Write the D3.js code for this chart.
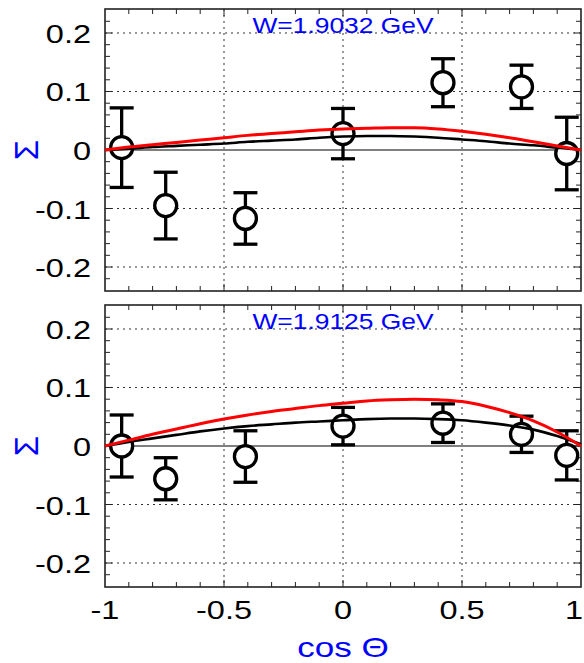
<!DOCTYPE html>
<html>
<head>
<meta charset="utf-8">
<script src="https://cdn.jsdelivr.net/npm/d3@7"></script>
<style>
  body { margin: 0; background: #fff; }
  text { font-family: "Liberation Sans", Arial, Helvetica, sans-serif; }
</style>
</head>
<body>
<script>
// cos(theta) bins of the data points
var cosBins = [-0.93, -0.745, -0.41, 0, 0.42, 0.75, 0.94];

// W = 1.9032 GeV
var sigmaTop = [0.004, -0.095, -0.117, 0.028, 0.115, 0.108, -0.006];
var errTop   = [0.068, 0.057, 0.044, 0.043, 0.041, 0.037, 0.062];

// W = 1.9125 GeV
var sigmaBot = [0.000, -0.056, -0.018, 0.034, 0.039, 0.020, -0.016];
var errBot   = [0.053, 0.036, 0.044, 0.032, 0.033, 0.031, 0.042];

// model curves, sampled at curveX
var curveX = [-1, -0.9, -0.8, -0.7, -0.6, -0.5, -0.4, -0.3, -0.2, -0.1, 0,
              0.1, 0.2, 0.3, 0.4, 0.5, 0.6, 0.7, 0.8, 0.9, 1];
var blackTop = [0, 0.002, 0.005, 0.007, 0.009, 0.011, 0.014, 0.016, 0.018, 0.021, 0.023,
                0.024, 0.024, 0.023, 0.021, 0.018, 0.015, 0.011, 0.008, 0.004, 0];
var redTop   = [0, 0.005, 0.009, 0.013, 0.017, 0.021, 0.025, 0.028, 0.031, 0.034, 0.036,
                0.037, 0.038, 0.038, 0.036, 0.032, 0.027, 0.021, 0.014, 0.007, 0];
var blackBot = [0, 0.007, 0.013, 0.019, 0.025, 0.030, 0.034, 0.037, 0.040, 0.042, 0.044,
                0.046, 0.047, 0.047, 0.046, 0.044, 0.040, 0.035, 0.028, 0.017, 0.003];
var redBot   = [0, 0.010, 0.020, 0.029, 0.038, 0.046, 0.053, 0.059, 0.064, 0.069, 0.073,
                0.077, 0.079, 0.080, 0.079, 0.076, 0.068, 0.057, 0.043, 0.024, 0];

var titles = ["W=1.9032 GeV", "W=1.9125 GeV"];
var xTicks = [-1, -0.5, 0, 0.5, 1];
var xTickLabels = ["-1", "-0.5", "0", "0.5", "1"];
var yTicks = [0.2, 0.1, 0, -0.1, -0.2];
var yTickLabels = ["0.2", "0.1", "0", "-0.1", "-0.2"];

var width = 584, height = 663,
    panelLeft = 105, panelRight = 581,
    panelTops = [9, 305], panelHeight = 282,
    stretch = 1.3;

var svg = d3.select("body").append("svg")
    .attr("width", width)
    .attr("height", height);

var x = d3.scaleLinear().domain([-1, 1]).range([panelLeft, panelRight]);

function stretchedText(g, px, py, str, anchor, size, color, sx) {
    g.append("g")
        .attr("transform", "translate(" + px + "," + py + ") scale(" + sx + ",1)")
        .append("text")
        .attr("text-anchor", anchor)
        .attr("font-size", size)
        .attr("fill", color)
        .text(str);
}

function drawPanel(i, sigma, err, black, red) {
    var top = panelTops[i], bottom = top + panelHeight;
    var y = d3.scaleLinear().domain([-0.241, 0.241]).range([bottom, top]);
    var g = svg.append("g");

    // dotted grid
    g.selectAll(".gx").data(xTicks.slice(1, -1)).enter().append("line")
        .attr("x1", d => x(d)).attr("x2", d => x(d))
        .attr("y1", top).attr("y2", bottom)
        .attr("stroke", "#333").attr("stroke-width", 1).attr("stroke-dasharray", "2,4");
    g.selectAll(".gy").data(yTicks.filter(d => d != 0)).enter().append("line")
        .attr("x1", panelLeft).attr("x2", panelRight)
        .attr("y1", d => y(d)).attr("y2", d => y(d))
        .attr("stroke", "#333").attr("stroke-width", 1).attr("stroke-dasharray", "2,4");

    // zero line
    g.append("line")
        .attr("x1", panelLeft).attr("x2", panelRight)
        .attr("y1", y(0)).attr("y2", y(0))
        .attr("stroke", "#000").attr("stroke-width", 1.2);

    // ticks, all four sides, inward
    var xMinor = d3.range(-0.9, 0.95, 0.1);
    var yMinor = d3.range(-0.22, 0.23, 0.02);
    xMinor.forEach(function (t) {
        var major = Math.abs(t * 2 - Math.round(t * 2)) < 1e-6;
        var len = major ? 7 : 5;
        g.append("line").attr("x1", x(t)).attr("x2", x(t)).attr("y1", bottom).attr("y2", bottom - len)
            .attr("stroke", "#222").attr("stroke-width", 1);
        g.append("line").attr("x1", x(t)).attr("x2", x(t)).attr("y1", top).attr("y2", top + len)
            .attr("stroke", "#222").attr("stroke-width", 1);
    });
    yMinor.forEach(function (t) {
        var major = Math.abs(t * 10 - Math.round(t * 10)) < 1e-6;
        var len = major ? 7 : 5;
        g.append("line").attr("x1", panelLeft).attr("x2", panelLeft + len).attr("y1", y(t)).attr("y2", y(t))
            .attr("stroke", "#222").attr("stroke-width", 1);
        g.append("line").attr("x1", panelRight).attr("x2", panelRight - len).attr("y1", y(t)).attr("y2", y(t))
            .attr("stroke", "#222").attr("stroke-width", 1);
    });

    // frame
    g.append("rect")
        .attr("x", panelLeft).attr("y", top)
        .attr("width", panelRight - panelLeft).attr("height", panelHeight)
        .attr("fill", "none").attr("stroke", "#222").attr("stroke-width", 1.6);

    // y tick labels
    yTicks.forEach(function (t, k) {
        stretchedText(g, 91, y(t) + 10, yTickLabels[k], "end", 25, "#000", stretch);
    });

    // y axis title
    g.append("text")
        .attr("transform", "translate(38," + y(0) + ") rotate(-90)")
        .attr("text-anchor", "middle")
        .attr("font-size", 33)
        .attr("fill", "#0000ff")
        .text("Σ");

    // panel title
    stretchedText(g, x(0), top + 24, titles[i], "middle", 22, "#0000ff", 1.2);

    // data points with error bars
    var pts = cosBins.map((c, k) => ({c: c, s: sigma[k], e: err[k]}));
    var cap = 12;
    pts.forEach(function (p) {
        g.append("line").attr("x1", x(p.c)).attr("x2", x(p.c))
            .attr("y1", y(p.s + p.e)).attr("y2", y(p.s - p.e))
            .attr("stroke", "#000").attr("stroke-width", 3.3);
        [p.s + p.e, p.s - p.e].forEach(function (v) {
            g.append("line").attr("x1", x(p.c) - cap).attr("x2", x(p.c) + cap)
                .attr("y1", y(v)).attr("y2", y(v))
                .attr("stroke", "#000").attr("stroke-width", 3.3);
        });
        g.append("circle").attr("cx", x(p.c)).attr("cy", y(p.s)).attr("r", 11)
            .attr("fill", "#fff").attr("stroke", "#000").attr("stroke-width", 3.3);
    });

    // model curves
    var line = d3.line()
        .x(d => x(d[0])).y(d => y(d[1]))
        .curve(d3.curveMonotoneX);
    g.append("path").datum(curveX.map((c, k) => [c, black[k]]))
        .attr("d", line).attr("fill", "none").attr("stroke", "#000").attr("stroke-width", 2.6);
    g.append("path").datum(curveX.map((c, k) => [c, red[k]]))
        .attr("d", line).attr("fill", "none").attr("stroke", "#ff0000").attr("stroke-width", 3);

    return g;
}

drawPanel(0, sigmaTop, errTop, blackTop, redTop);
var gBot = drawPanel(1, sigmaBot, errBot, blackBot, redBot);

// x tick labels under the lower panel (last one pulled in to stay on the page)
xTicks.forEach(function (t, k) {
    var last = k == xTicks.length - 1;
    stretchedText(gBot, last ? width - 1 : x(t), panelTops[1] + panelHeight + 32, xTickLabels[k],
        last ? "end" : "middle", 25, "#000", stretch);
});

// x axis title
stretchedText(svg, x(0), 657, "cos Θ", "middle", 27, "#0000ff", 1.3);
</script>
</body>
</html>
